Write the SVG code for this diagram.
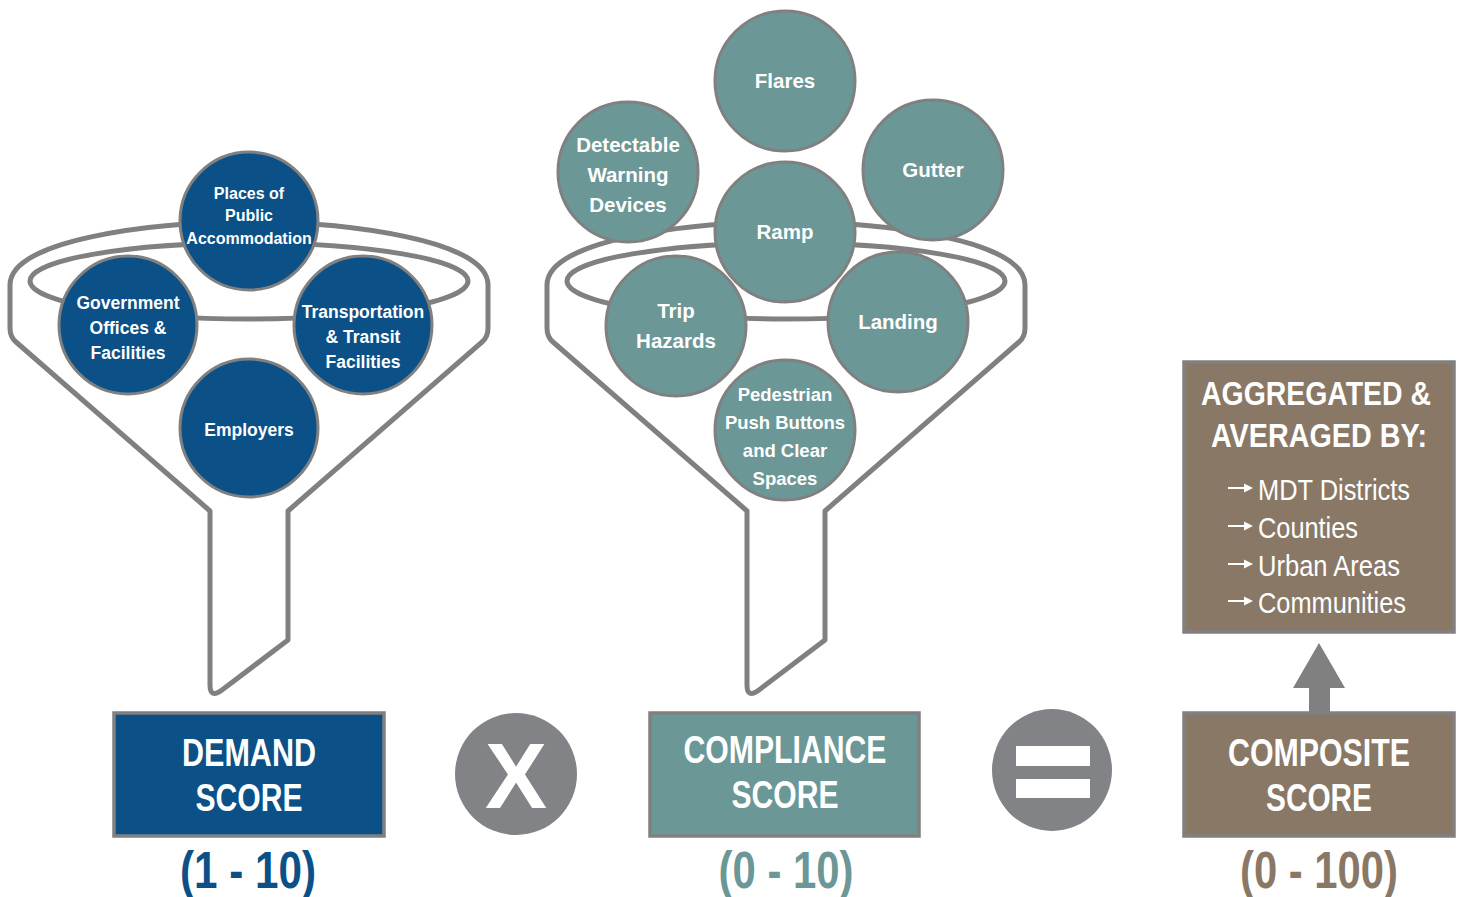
<svg xmlns="http://www.w3.org/2000/svg" width="1462" height="897" viewBox="0 0 1462 897">
<defs>
<style>
.funnel{fill:#fff;stroke:#808080;stroke-width:5;stroke-linejoin:round}
.rim{fill:none;stroke:#808080;stroke-width:5}
.cb{fill:#0b5087;stroke:#808080;stroke-width:3}
.ct{fill:#6c9797;stroke:#808080;stroke-width:3}
.lbl{font-family:"Liberation Sans",Arial,sans-serif;font-weight:bold;fill:#fff;text-anchor:middle}
.nar{font-family:"Liberation Sans Narrow","Liberation Sans",Arial,sans-serif;font-stretch:condensed;text-anchor:middle}
.box{stroke:#808080;stroke-width:3.5}
.op{fill:#828387}
.bl{stroke:#fff;stroke-width:2}
</style>
<path id="fun" d="M 210 511 L 16 342 Q 10 337 10 328 L 10 285 C 10 240 150 222 249 222 C 348 222 488 240 488 285 L 488 328 Q 488 337 482 342 L 288 511 L 288 640 L 222 690 Q 210 699 210 685 Z"/>
<g id="bullet">
<line class="bl" x1="1228" y1="0" x2="1246" y2="0"/>
<polygon points="1244,-4.5 1253,0 1244,4.5" fill="#fff"/>
</g>
</defs>
<rect width="1462" height="897" fill="#fff"/>

<g id="funnel-demand">
<use href="#fun" class="funnel"/>
<ellipse class="rim" cx="249" cy="281" rx="219" ry="38"/>
</g>
<g id="funnel-compliance">
<use href="#fun" class="funnel" transform="translate(537,0)"/>
<ellipse class="rim" cx="786" cy="281" rx="219" ry="38"/>
</g>

<g id="places">
<circle class="cb" cx="249" cy="221" r="69"/>
<text class="lbl" font-size="16" x="249" y="199">Places of</text>
<text class="lbl" font-size="16" x="249" y="221">Public</text>
<text class="lbl" font-size="16" x="249" y="244">Accommodation</text>
</g>
<g id="government">
<circle class="cb" cx="128" cy="325" r="69"/>
<text class="lbl" font-size="17.5" x="128" y="309">Government</text>
<text class="lbl" font-size="17.5" x="128" y="334">Offices &amp;</text>
<text class="lbl" font-size="17.5" x="128" y="359">Facilities</text>
</g>
<g id="transportation">
<circle class="cb" cx="363" cy="325" r="69"/>
<text class="lbl" font-size="17.5" x="363" y="318">Transportation</text>
<text class="lbl" font-size="17.5" x="363" y="343">&amp; Transit</text>
<text class="lbl" font-size="17.5" x="363" y="368">Facilities</text>
</g>
<g id="employers">
<circle class="cb" cx="249" cy="428" r="69"/>
<text class="lbl" font-size="17.5" x="249" y="436">Employers</text>
</g>

<g id="flares">
<circle class="ct" cx="785" cy="81" r="70"/>
<text class="lbl" font-size="20.5" x="785" y="88">Flares</text>
</g>
<g id="detectable">
<circle class="ct" cx="628" cy="172" r="70"/>
<text class="lbl" font-size="20.5" x="628" y="152">Detectable</text>
<text class="lbl" font-size="20.5" x="628" y="182">Warning</text>
<text class="lbl" font-size="20.5" x="628" y="212">Devices</text>
</g>
<g id="gutter">
<circle class="ct" cx="933" cy="170" r="70"/>
<text class="lbl" font-size="20.5" x="933" y="177">Gutter</text>
</g>
<g id="ramp">
<circle class="ct" cx="785" cy="232" r="70"/>
<text class="lbl" font-size="20.5" x="785" y="239">Ramp</text>
</g>
<g id="trip">
<circle class="ct" cx="676" cy="326" r="70"/>
<text class="lbl" font-size="20.5" x="676" y="318">Trip</text>
<text class="lbl" font-size="20.5" x="676" y="348">Hazards</text>
</g>
<g id="landing">
<circle class="ct" cx="898" cy="322" r="70"/>
<text class="lbl" font-size="20.5" x="898" y="329">Landing</text>
</g>
<g id="pedestrian">
<circle class="ct" cx="785" cy="430" r="70"/>
<text class="lbl" font-size="18.5" x="785" y="401">Pedestrian</text>
<text class="lbl" font-size="18.5" x="785" y="429">Push Buttons</text>
<text class="lbl" font-size="18.5" x="785" y="457">and Clear</text>
<text class="lbl" font-size="18.5" x="785" y="485">Spaces</text>
</g>

<g id="demand-score">
<rect class="box" x="114" y="713" width="270" height="123" fill="#0b5087"/>
<text class="nar" font-weight="bold" font-size="38" fill="#fff" x="249" y="766" textLength="134" lengthAdjust="spacingAndGlyphs">DEMAND</text>
<text class="nar" font-weight="bold" font-size="38" fill="#fff" x="249" y="811" textLength="107" lengthAdjust="spacingAndGlyphs">SCORE</text>
<text class="nar" font-weight="bold" font-size="52" fill="#0b5087" x="248" y="888" textLength="136" lengthAdjust="spacingAndGlyphs">(1 - 10)</text>
</g>

<g id="times">
<circle class="op" cx="516" cy="774" r="61"/>
<text x="516" y="808" font-family="Liberation Sans,Arial,sans-serif" font-weight="bold" font-size="93" fill="#fff" text-anchor="middle">X</text>
</g>

<g id="compliance-score">
<rect class="box" x="650" y="713" width="269" height="123" fill="#6c9797"/>
<text class="nar" font-weight="bold" font-size="38" fill="#fff" x="785" y="763" textLength="203" lengthAdjust="spacingAndGlyphs">COMPLIANCE</text>
<text class="nar" font-weight="bold" font-size="38" fill="#fff" x="785" y="808" textLength="107" lengthAdjust="spacingAndGlyphs">SCORE</text>
<text class="nar" font-weight="bold" font-size="52" fill="#6c9797" x="786" y="888" textLength="135" lengthAdjust="spacingAndGlyphs">(0 - 10)</text>
</g>

<g id="equals">
<ellipse class="op" cx="1052" cy="770" rx="60" ry="61"/>
<rect x="1016" y="746" width="74" height="20" fill="#fff"/>
<rect x="1016" y="779" width="74" height="19" fill="#fff"/>
</g>

<g id="composite-score">
<rect class="box" x="1184" y="713" width="270" height="123" fill="#8a7866"/>
<text class="nar" font-weight="bold" font-size="38" fill="#fff" x="1319" y="766" textLength="182" lengthAdjust="spacingAndGlyphs">COMPOSITE</text>
<text class="nar" font-weight="bold" font-size="38" fill="#fff" x="1319" y="811" textLength="106" lengthAdjust="spacingAndGlyphs">SCORE</text>
<text class="nar" font-weight="bold" font-size="52" fill="#8a7866" x="1319" y="888" textLength="158" lengthAdjust="spacingAndGlyphs">(0 - 100)</text>
</g>

<g id="aggregated">
<rect class="box" x="1184" y="362" width="270" height="270" fill="#8a7866"/>
<text class="nar" font-weight="bold" font-size="33" fill="#fff" x="1316" y="405" textLength="230" lengthAdjust="spacingAndGlyphs">AGGREGATED &amp;</text>
<text class="nar" font-weight="bold" font-size="33" fill="#fff" x="1319" y="447" textLength="216" lengthAdjust="spacingAndGlyphs">AVERAGED BY:</text>
<use href="#bullet" transform="translate(0,488)"/>
<use href="#bullet" transform="translate(0,526)"/>
<use href="#bullet" transform="translate(0,564)"/>
<use href="#bullet" transform="translate(0,601)"/>
<g font-family="Liberation Sans Narrow,Liberation Sans,Arial,sans-serif" font-size="29" fill="#fff">
<text x="1258" y="500" textLength="152" lengthAdjust="spacingAndGlyphs">MDT Districts</text>
<text x="1258" y="538" textLength="100" lengthAdjust="spacingAndGlyphs">Counties</text>
<text x="1258" y="576" textLength="142" lengthAdjust="spacingAndGlyphs">Urban Areas</text>
<text x="1258" y="613" textLength="148" lengthAdjust="spacingAndGlyphs">Communities</text>
</g>
</g>

<g id="connectors">
<path d="M 1309 713 L 1309 688 L 1293 688 L 1319 643 L 1345 688 L 1330 688 L 1330 713 Z" fill="#808080"/>
</g>
</svg>
